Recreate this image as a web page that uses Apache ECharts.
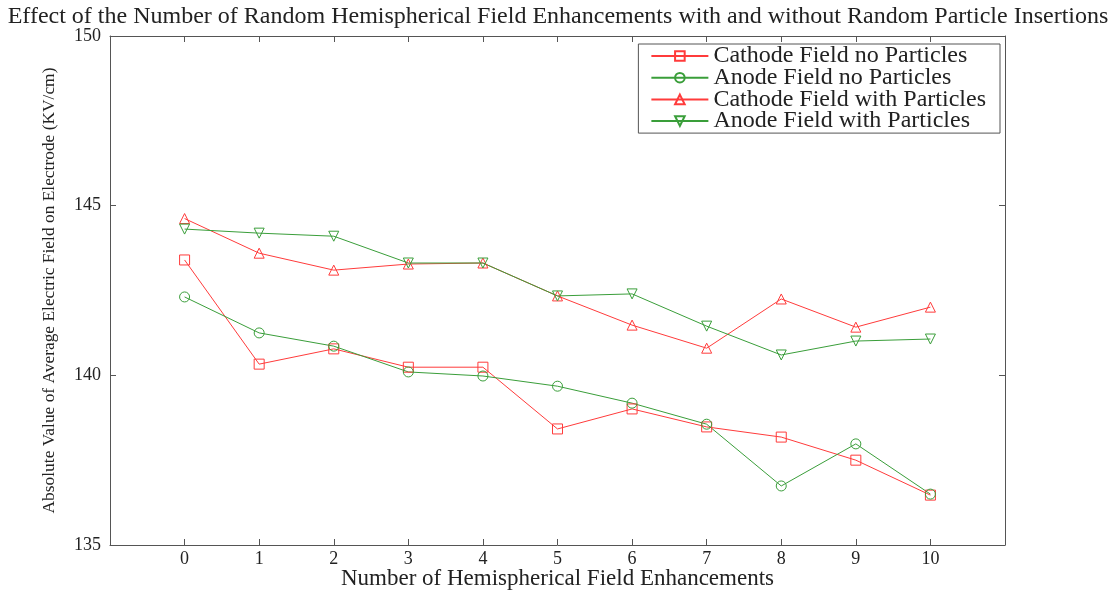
<!DOCTYPE html>
<html>
<head>
<meta charset="utf-8">
<script src="https://cdn.jsdelivr.net/npm/echarts@6/dist/echarts.min.js"></script>
<style>html,body{margin:0;padding:0;background:#fff;}#c{width:1116px;height:590px;}</style>
</head>
<body>
<div id="c"></div>
<script>
var categories = [0, 1, 2, 3, 4, 5, 6, 7, 8, 9, 10];
var cathodeNoParticles = [143.40, 140.33, 140.78, 140.24, 140.24, 138.42, 139.01, 138.48, 138.18, 137.50, 136.47];
var anodeNoParticles = [142.31, 141.25, 140.86, 140.10, 139.98, 139.68, 139.18, 138.56, 136.74, 137.98, 136.50];
var cathodeWithParticles = [144.62, 143.60, 143.10, 143.28, 143.31, 142.34, 141.48, 140.80, 142.25, 141.42, 142.01];
var anodeWithParticles = [144.31, 144.19, 144.10, 143.31, 143.31, 142.34, 142.40, 141.45, 140.60, 141.01, 141.07];
var seriesNames = ['Cathode Field no Particles', 'Anode Field no Particles', 'Cathode Field with Particles', 'Anode Field with Particles'];
var yTicks = [135, 140, 145, 150];

var RED = '#ff3b3b', GREEN = '#3a9e3a', FRAME = '#555555';
var FONT = '"Liberation Serif", "Times New Roman", serif';

function pairs(vals) { return categories.map(function (c, i) { return [c, vals[i]]; }); }
function mk(name, vals, color, symbol, rot) {
  return {
    name: name, type: 'line', data: pairs(vals),
    symbol: symbol, symbolSize: 10, symbolRotate: rot || 0,
    showAllSymbol: true,
    lineStyle: { color: color, width: 1 },
    itemStyle: { color: 'rgba(255,255,255,0)', borderColor: color, borderWidth: 1 },
    emphasis: { disabled: true },
    animation: false
  };
}
var axisCommon = {
  axisLine: { show: true, onZero: false, lineStyle: { color: FRAME, width: 1 } },
  axisTick: { show: true, inside: true, length: 6, lineStyle: { color: FRAME } },
  splitLine: { show: false }
};
var chart = echarts.init(document.getElementById('c'), null, { renderer: 'canvas' });
chart.setOption({
  backgroundColor: '#fff',
  animation: false,
  title: {
    text: 'Effect of the Number of Random Hemispherical Field Enhancements with and without Random Particle Insertions',
    left: 'center', top: 0,
    textStyle: { fontFamily: FONT, fontSize: 24, fontWeight: 'normal', color: '#222' }
  },
  legend: {
    orient: 'vertical', right: 116, top: 44,
    backgroundColor: '#fff', borderColor: FRAME, borderWidth: 1,
    padding: [0, 14, 0, 12],
    itemWidth: 57, itemHeight: 12, itemGap: -2.3,
    textStyle: { fontFamily: FONT, fontSize: 24, color: '#222' },
    data: seriesNames
  },
  grid: { left: 110, right: 111, top: 36, bottom: 45, containLabel: false, outerBoundsMode: 'none' },
  xAxis: [
    Object.assign({}, axisCommon, {
      type: 'value', min: -1, max: 11, interval: 1, position: 'bottom',
      name: 'Number of Hemispherical Field Enhancements', nameLocation: 'middle', nameGap: 22,
      nameMoveOverlap: false,
      nameTextStyle: { fontFamily: FONT, fontSize: 23, color: '#222' },
      axisLabel: { margin: 5, fontFamily: FONT, fontSize: 18, color: '#222',
        formatter: function (v) { return categories.indexOf(v) >= 0 ? String(v) : ''; } }
    }),
    Object.assign({}, axisCommon, {
      type: 'value', min: -1, max: 11, interval: 1, position: 'top',
      axisLabel: { show: false }
    })
  ],
  yAxis: [
    Object.assign({}, axisCommon, {
      type: 'value', min: yTicks[0], max: yTicks[yTicks.length - 1], interval: 5, position: 'left',
      name: 'Absolute Value of Average Electric Field on Electrode (KV/cm)', nameLocation: 'middle', nameGap: 52,
      nameMoveOverlap: false,
      nameTextStyle: { fontFamily: FONT, fontSize: 17.4, color: '#222' },
      axisLabel: { margin: 9, fontFamily: FONT, fontSize: 18, color: '#222' }
    }),
    Object.assign({}, axisCommon, {
      type: 'value', min: yTicks[0], max: yTicks[yTicks.length - 1], interval: 5, position: 'right',
      axisLabel: { show: false }
    })
  ],
  series: [
    mk(seriesNames[0], cathodeNoParticles, RED, 'rect'),
    mk(seriesNames[1], anodeNoParticles, GREEN, 'circle'),
    mk(seriesNames[2], cathodeWithParticles, RED, 'triangle'),
    mk(seriesNames[3], anodeWithParticles, GREEN, 'triangle', 180)
  ]
});
</script>
</body>
</html>
